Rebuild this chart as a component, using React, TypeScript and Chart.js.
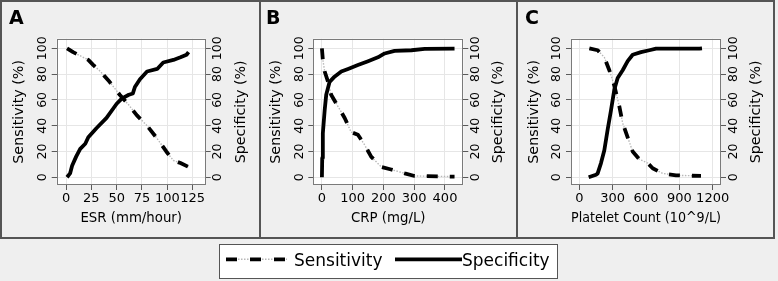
import React, { useEffect, useRef } from "react";
import { Chart, registerables } from "chart.js";

Chart.register(...registerables);

const FONT = "'DejaVu Sans', 'Liberation Sans', sans-serif";

// ---------- Data ----------
// Panel A: ESR (mm/hour)
const esrSensX = [1, 7, 17, 22, 27, 34, 43, 53, 62, 70, 80, 90, 99, 106, 113, 121];
const esrSensY = [100, 97, 93, 91, 87, 82, 74, 64, 56, 48, 40, 30, 20, 13, 11, 8];
const esrSpecX = [1, 4, 6, 10, 14, 19, 22, 30, 40, 50, 55, 62, 66, 68, 73, 80, 90, 96, 106, 113, 119, 121];
const esrSpecY = [0, 3, 9, 16, 22, 26, 31, 38, 46, 57, 61, 64, 65, 70, 76, 82, 84, 89, 91, 93, 95, 97];

// Panel B: CRP (mg/L)
const crpSensX = [0, 3, 9, 20, 30, 52, 74, 95, 117, 139, 160, 193, 225, 269, 301, 431];
const crpSensY = [100, 91, 82, 74, 64, 55, 46, 35, 33, 25, 16, 8, 6, 3, 1, 0.5];
const crpSpecX = [0, 1, 3, 9, 14, 25, 41, 63, 85, 117, 150, 182, 204, 236, 291, 334, 431];
const crpSpecY = [0, 15, 34, 52, 64, 74, 78, 82, 84, 87, 90, 93, 96, 98, 98.5, 99.5, 99.8];

// Panel C: Platelet count (10^9/L)
const pltSensX = [90, 165, 225, 270, 315, 360, 390, 435, 480, 540, 615, 660, 750, 870, 1095];
const pltSensY = [100, 98.5, 93, 83, 71, 55, 42, 31, 20, 14, 11, 7, 3, 1.5, 1];
const pltSpecX = [84, 150, 165, 195, 225, 255, 285, 315, 345, 390, 435, 480, 555, 630, 690, 1080, 1104];
const pltSpecY = [0, 2, 3, 11, 21, 37, 52, 68, 77, 83, 90, 95, 97, 98.5, 99.8, 99.8, 100];

// Tick labels
const esrTicks = [0, 25, 50, 75, 100, 125];
const crpTicks = [0, 100, 200, 300, 400];
const pltTicks = [0, 300, 600, 900, 1200];
const pctTicks = [0, 20, 40, 60, 80, 100];

// Texts
const panelLetters = ["A", "B", "C"];
const xTitles = ["ESR (mm/hour)", "CRP (mg/L)", "Platelet Count (10^9/L)"];
const yLeftTitle = "Sensitivity (%)";
const yRightTitle = "Specificity (%)";
const legendLabels = ["Sensitivity", "Specificity"];

// ---------- Layout (not data) ----------
const Y_MIN = -6;
const Y_MAX = 107.45;

type PanelCfg = {
  letter: string;
  xTitle: string;
  xTicks: number[];
  xMin: number;
  xMax: number;
  sensX: number[];
  sensY: number[];
  specX: number[];
  specY: number[];
  canvasLeft: number;
  canvasWidth: number;
  padLeft: number;
  leftW: number;
  rightW: number;
};

const CANVAS_TOP = 2;
const CANVAS_H = 235;
const BOTTOM_H = 52;

const panels: PanelCfg[] = [
  {
    letter: panelLetters[0], xTitle: xTitles[0], xTicks: esrTicks, xMin: -9.2, xMax: 137.9,
    sensX: esrSensX, sensY: esrSensY, specX: esrSpecX, specY: esrSpecY,
    canvasLeft: 2, canvasWidth: 257, padLeft: 7, leftW: 47.7, rightW: 53.3,
  },
  {
    letter: panelLetters[1], xTitle: xTitles[1], xTicks: crpTicks, xMin: -28, xMax: 459.5,
    sensX: crpSensX, sensY: crpSensY, specX: crpSpecX, specY: crpSpecY,
    canvasLeft: 261, canvasWidth: 255, padLeft: 5, leftW: 47.3, rightW: 52.7,
  },
  {
    letter: panelLetters[2], xTitle: xTitles[2], xTicks: pltTicks, xMin: -75, xMax: 1275,
    sensX: pltSensX, sensY: pltSensY, specX: pltSpecX, specY: pltSpecY,
    canvasLeft: 518, canvasWidth: 255, padLeft: 7, leftW: 46, rightW: 52,
  },
];

const axisTextPlugin = {
  id: "axisText",
  beforeDraw(chart: any) {
    const { ctx, chartArea: a } = chart;
    ctx.save();
    ctx.fillStyle = "#ffffff";
    ctx.fillRect(a.left, a.top, a.right - a.left, a.bottom - a.top);
    ctx.restore();
  },
  beforeDatasetsDraw(chart: any) {
    const { ctx, chartArea: a } = chart;
    ctx.save();
    ctx.strokeStyle = "#7a7a7a";
    ctx.lineWidth = 1;
    const l = Math.round(a.left) + 0.5;
    const t = Math.round(a.top) + 0.5;
    const r = Math.round(a.right) - 0.5;
    const b = Math.round(a.bottom) - 0.5;
    ctx.strokeRect(l, t, r - l, b - t);
    ctx.restore();
  },
  afterDraw(chart: any, _args: any, opts: any) {
    const { ctx, chartArea: a } = chart;
    const yl = chart.scales.y;
    const yr = chart.scales.y2;
    ctx.save();
    ctx.fillStyle = "#000";
    ctx.textAlign = "center";
    ctx.textBaseline = "middle";
    ctx.font = `12.5px ${FONT}`;
    const drawRot = (text: string, x: number, y: number) => {
      ctx.save();
      ctx.translate(x, y);
      ctx.rotate(-Math.PI / 2);
      ctx.fillText(text, 0, 0);
      ctx.restore();
    };
    yl.ticks.forEach((t: any) => drawRot(String(t.value), a.left - 14, yl.getPixelForValue(t.value)));
    yr.ticks.forEach((t: any) => drawRot(String(t.value), a.right + 12.5, yr.getPixelForValue(t.value)));
    ctx.font = `14.3px ${FONT}`;
    drawRot(opts.rightTitle, a.right + 35.4, (a.top + a.bottom) / 2);
    ctx.restore();
  },
};

function buildChart(canvas: HTMLCanvasElement, p: PanelCfg) {
  const pts = (xs: number[], ys: number[]) => xs.map((x, i) => ({ x, y: ys[i] }));
  const gridCommon = { color: "#e6e6e6", tickColor: "#5a5a5a", tickLength: 5, lineWidth: 1 };
  return new Chart(canvas, {
    type: "line",
    data: {
      datasets: [
        {
          label: legendLabels[0],
          data: pts(p.sensX, p.sensY),
          borderColor: "#000",
          borderWidth: 3.8,
          borderDash: [11, 12],
          order: 0,
        },
        {
          label: legendLabels[1],
          data: pts(p.specX, p.specY),
          borderColor: "#000",
          borderWidth: 3.8,
          order: 1,
        },
        {
          label: legendLabels[0] + " (gap)",
          data: pts(p.sensX, p.sensY),
          borderColor: "#b8b8b8",
          borderWidth: 1.4,
          borderDash: [1.5, 1.5],
          order: 2,
        },
      ],
    },
    options: {
      responsive: false,
      animation: false,
      events: [],
      layout: { padding: { left: p.padLeft, top: 0, right: 0, bottom: 0 } },
      elements: {
        point: { radius: 0 },
        line: { tension: 0, borderCapStyle: "butt", borderJoinStyle: "round" },
      },
      plugins: {
        legend: { display: false },
        tooltip: { enabled: false },
        title: {
          display: true,
          text: p.letter,
          align: "start",
          color: "#000",
          font: { family: FONT, size: 19, weight: "bold", lineHeight: 1.2 },
          padding: { top: 5.4, bottom: 8.5 },
        },
        axisText: { rightTitle: yRightTitle },
      } as any,
      scales: {
        x: {
          type: "linear",
          position: "bottom",
          min: p.xMin,
          max: p.xMax,
          afterBuildTicks: (s: any) => {
            s.ticks = p.xTicks.map((v) => ({ value: v }));
          },
          afterFit: (s: any) => {
            s.height = BOTTOM_H;
          },
          ticks: {
            autoSkip: false,
            maxRotation: 0,
            minRotation: 0,
            padding: 1,
            color: "#000",
            font: { family: FONT, size: 13 },
            callback: (v: any) => String(v),
          },
          grid: gridCommon,
          border: { display: false },
          title: {
            display: true,
            text: p.xTitle,
            color: "#000",
            font: { family: FONT, size: 13.3 },
            padding: { top: 0, bottom: 10.6 },
          },
        },
        y: {
          type: "linear",
          position: "left",
          min: Y_MIN,
          max: Y_MAX,
          afterBuildTicks: (s: any) => {
            s.ticks = pctTicks.map((v) => ({ value: v }));
          },
          afterFit: (s: any) => {
            s.width = p.leftW;
          },
          ticks: { color: "rgba(0,0,0,0)", font: { family: FONT, size: 12 }, callback: (v: any) => String(v) },
          grid: gridCommon,
          border: { display: false },
          title: {
            display: true,
            text: yLeftTitle,
            color: "#000",
            font: { family: FONT, size: 14.3 },
            padding: { top: p.leftW - 37 - 8.58, bottom: 0 },
          },
        },
        y2: {
          type: "linear",
          position: "right",
          min: Y_MIN,
          max: Y_MAX,
          afterBuildTicks: (s: any) => {
            s.ticks = pctTicks.map((v) => ({ value: v }));
          },
          afterFit: (s: any) => {
            s.width = p.rightW;
          },
          ticks: { color: "rgba(0,0,0,0)", font: { family: FONT, size: 12 }, callback: (v: any) => String(v) },
          grid: { ...gridCommon, drawOnChartArea: false },
          border: { display: false },
        },
      },
    } as any,
    plugins: [axisTextPlugin],
  });
}

function PanelCanvas({ p }: { p: PanelCfg }) {
  const ref = useRef<HTMLCanvasElement | null>(null);
  useEffect(() => {
    if (!ref.current) return;
    const chart = buildChart(ref.current, p);
    return () => chart.destroy();
  }, [p]);
  return (
    <canvas
      ref={ref}
      width={p.canvasWidth}
      height={CANVAS_H}
      style={{
        position: "absolute",
        left: p.canvasLeft,
        top: CANVAS_TOP,
        width: p.canvasWidth,
        height: CANVAS_H,
      }}
    />
  );
}

export default function App() {
  const panelBoxes = [
    { left: 0, width: 261 },
    { left: 259, width: 259 },
    { left: 516, width: 259 },
  ];
  const legendY = 259.3;
  return (
    <div
      style={{
        position: "fixed",
        left: 0,
        top: 0,
        width: 778,
        height: 281,
        background: "#efefef",
        overflow: "hidden",
        fontFamily: FONT,
      }}
    >
      {panelBoxes.map((b, i) => (
        <div
          key={i}
          style={{
            position: "absolute",
            left: b.left,
            top: 0,
            width: b.width,
            height: 239,
            border: "2px solid #555",
            boxSizing: "border-box",
          }}
        />
      ))}
      {panels.map((p, i) => (
        <PanelCanvas key={i} p={p} />
      ))}
      <div
        style={{
          position: "absolute",
          left: 219,
          top: 244,
          width: 339,
          height: 35,
          border: "1.5px solid #555",
          background: "#fff",
          boxSizing: "border-box",
        }}
      />
      <svg
        width={778}
        height={281}
        style={{ position: "absolute", left: 0, top: 0, pointerEvents: "none" }}
      >
        <line x1={226} y1={legendY} x2={287} y2={legendY} stroke="#b8b8b8" strokeWidth={1.4} strokeDasharray="1.5 1.5" />
        <line x1={226} y1={legendY} x2={287} y2={legendY} stroke="#000" strokeWidth={3.8} strokeDasharray="11 13" />
        <line x1={395} y1={legendY} x2={462} y2={legendY} stroke="#000" strokeWidth={3.8} />
      </svg>
      <span
        style={{
          position: "absolute",
          left: 294,
          top: 249.8,
          fontSize: 17,
          lineHeight: "20px",
          color: "#000",
          whiteSpace: "nowrap",
        }}
      >
        {legendLabels[0]}
      </span>
      <span
        style={{
          position: "absolute",
          left: 462,
          top: 249.8,
          fontSize: 17,
          lineHeight: "20px",
          color: "#000",
          whiteSpace: "nowrap",
        }}
      >
        {legendLabels[1]}
      </span>
    </div>
  );
}
